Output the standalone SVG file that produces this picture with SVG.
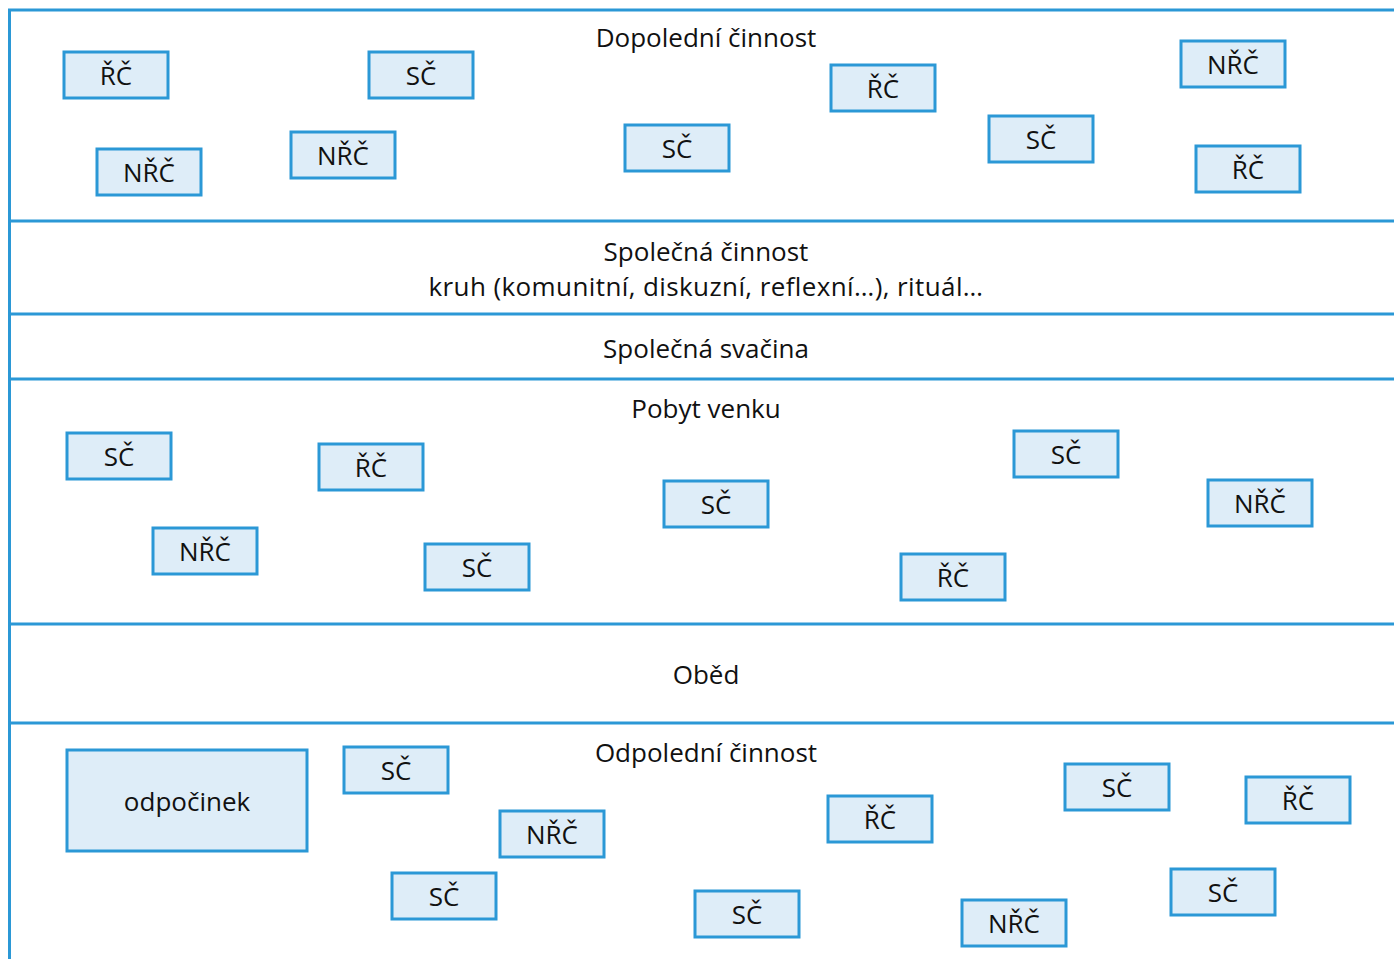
<svg xmlns="http://www.w3.org/2000/svg" width="1394" height="959" viewBox="0 0 1394 959">
<style>
.ln{stroke:#2b98d6;stroke-width:3;fill:none}
.bx{fill:#deedf8;stroke:#2b98d6;stroke-width:3}
.t{font-family:"Open Sans","Noto Sans",sans-serif;font-size:26px;fill:#111;text-anchor:middle}
</style>
<rect width="1394" height="959" fill="#fff"/>
<g id="frame">
<line class="ln" x1="9.5" y1="10" x2="9.5" y2="959"/>
<line class="ln" x1="8" y1="10" x2="1394" y2="10"/>
<line class="ln" x1="8" y1="221" x2="1394" y2="221"/>
<line class="ln" x1="8" y1="314" x2="1394" y2="314"/>
<line class="ln" x1="8" y1="379" x2="1394" y2="379"/>
<line class="ln" x1="8" y1="624" x2="1394" y2="624"/>
<line class="ln" x1="8" y1="723" x2="1394" y2="723"/>
</g>
<g id="labels">
<text class="t" x="706" y="47">Dopolední činnost</text>
<text class="t" x="706" y="261">Společná činnost</text>
<text class="t" x="706" y="296" letter-spacing="0.4">kruh (komunitní, diskuzní, reflexní…), rituál…</text>
<text class="t" x="706" y="358">Společná svačina</text>
<text class="t" x="706" y="418">Pobyt venku</text>
<text class="t" x="706" y="684">Oběd</text>
<text class="t" x="706" y="762">Odpolední činnost</text>
</g>
<g id="n1"><rect class="bx" x="64" y="52" width="104" height="46"/><text class="t" x="116" y="85">ŘČ</text></g>
<g id="n2"><rect class="bx" x="369" y="52" width="104" height="46"/><text class="t" x="421" y="85">SČ</text></g>
<g id="n3"><rect class="bx" x="831" y="65" width="104" height="46"/><text class="t" x="883" y="98">ŘČ</text></g>
<g id="n4"><rect class="bx" x="1181" y="41" width="104" height="46"/><text class="t" x="1233" y="74">NŘČ</text></g>
<g id="n5"><rect class="bx" x="97" y="149" width="104" height="46"/><text class="t" x="149" y="182">NŘČ</text></g>
<g id="n6"><rect class="bx" x="291" y="132" width="104" height="46"/><text class="t" x="343" y="165">NŘČ</text></g>
<g id="n7"><rect class="bx" x="625" y="125" width="104" height="46"/><text class="t" x="677" y="158">SČ</text></g>
<g id="n8"><rect class="bx" x="989" y="116" width="104" height="46"/><text class="t" x="1041" y="149">SČ</text></g>
<g id="n9"><rect class="bx" x="1196" y="146" width="104" height="46"/><text class="t" x="1248" y="179">ŘČ</text></g>
<g id="p1"><rect class="bx" x="67" y="433" width="104" height="46"/><text class="t" x="119" y="466">SČ</text></g>
<g id="p2"><rect class="bx" x="319" y="444" width="104" height="46"/><text class="t" x="371" y="477">ŘČ</text></g>
<g id="p3"><rect class="bx" x="664" y="481" width="104" height="46"/><text class="t" x="716" y="514">SČ</text></g>
<g id="p4"><rect class="bx" x="1014" y="431" width="104" height="46"/><text class="t" x="1066" y="464">SČ</text></g>
<g id="p5"><rect class="bx" x="1208" y="480" width="104" height="46"/><text class="t" x="1260" y="513">NŘČ</text></g>
<g id="p6"><rect class="bx" x="153" y="528" width="104" height="46"/><text class="t" x="205" y="561">NŘČ</text></g>
<g id="p7"><rect class="bx" x="425" y="544" width="104" height="46"/><text class="t" x="477" y="577">SČ</text></g>
<g id="p8"><rect class="bx" x="901" y="554" width="104" height="46"/><text class="t" x="953" y="587">ŘČ</text></g>
<g id="o0"><rect class="bx" x="67" y="750" width="240" height="101"/><text class="t" x="187" y="811">odpočinek</text></g>
<g id="o1"><rect class="bx" x="344" y="747" width="104" height="46"/><text class="t" x="396" y="780">SČ</text></g>
<g id="o2"><rect class="bx" x="500" y="811" width="104" height="46"/><text class="t" x="552" y="844">NŘČ</text></g>
<g id="o3"><rect class="bx" x="828" y="796" width="104" height="46"/><text class="t" x="880" y="829">ŘČ</text></g>
<g id="o4"><rect class="bx" x="1065" y="764" width="104" height="46"/><text class="t" x="1117" y="797">SČ</text></g>
<g id="o5"><rect class="bx" x="1246" y="777" width="104" height="46"/><text class="t" x="1298" y="810">ŘČ</text></g>
<g id="o6"><rect class="bx" x="392" y="873" width="104" height="46"/><text class="t" x="444" y="906">SČ</text></g>
<g id="o7"><rect class="bx" x="695" y="891" width="104" height="46"/><text class="t" x="747" y="924">SČ</text></g>
<g id="o8"><rect class="bx" x="962" y="900" width="104" height="46"/><text class="t" x="1014" y="933">NŘČ</text></g>
<g id="o9"><rect class="bx" x="1171" y="869" width="104" height="46"/><text class="t" x="1223" y="902">SČ</text></g>
</svg>
